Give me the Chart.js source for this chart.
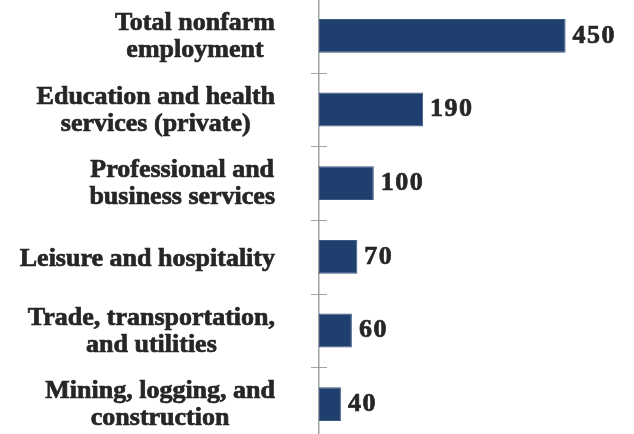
<!DOCTYPE html>
<html>
<head>
<meta charset="utf-8">
<script src="https://cdn.jsdelivr.net/npm/chart.js@4.4.0/dist/chart.umd.min.js"></script>
<style>
  html, body { margin: 0; padding: 0; background: #fff; overflow: hidden; }
  #wrap { position: absolute; left: 0; top: -1px; width: 634px; height: 442px; }
</style>
</head>
<body>
<div id="wrap"><canvas id="jobsChart"></canvas></div>
<script>
  // Data
  const categories = [
    ['Total nonfarm', 'employment'],
    ['Education and health', 'services (private)'],
    ['Professional and', 'business services'],
    ['Leisure and hospitality'],
    ['Trade, transportation,', 'and utilities'],
    ['Mining, logging, and', 'construction']
  ];
  const jobGains = [450, 190, 100, 70, 60, 40];
  const axisMax = 500;

  const labelFont = 'bold 26px "Liberation Serif", "DejaVu Serif", serif';
  const textColor = '#262626';
  const axisColor = '#a3a3a3';

  // fill + thin stroke so the serif looks as heavy as the original
  function heavyText(ctx, txt, x, y) {
    ctx.fillText(txt, x, y);
    ctx.strokeText(txt, x, y);
  }

  // category labels: block right aligned, lines centred inside the block
  const categoryLabels = {
    id: 'categoryLabels',
    afterDraw(chart) {
      const ctx = chart.ctx;
      const y = chart.scales.y;
      const right = chart.chartArea.left - 44;
      ctx.save();
      ctx.font = labelFont;
      ctx.fillStyle = textColor;
      ctx.strokeStyle = textColor;
      ctx.lineWidth = 0.7;
      ctx.textAlign = 'center';
      ctx.textBaseline = 'alphabetic';
      categories.forEach((lines, i) => {
        const cy = y.getPixelForValue(i);
        const widest = Math.max(...lines.map(l => ctx.measureText(l).width));
        const cx = right - widest / 2;
        const shift = lines.length > 1 ? 7.5 : 8.7;
        lines.forEach((line, j) => {
          heavyText(ctx, line, cx, cy + shift + (j - (lines.length - 1) / 2) * 27);
        });
      });
      ctx.restore();
    }
  };

  // value labels at the end of each bar
  const valueLabels = {
    id: 'valueLabels',
    afterDraw(chart) {
      const ctx = chart.ctx;
      const meta = chart.getDatasetMeta(0);
      ctx.save();
      ctx.font = labelFont;
      ctx.letterSpacing = '1.5px';
      ctx.fillStyle = textColor;
      ctx.strokeStyle = textColor;
      ctx.lineWidth = 0.7;
      ctx.textAlign = 'left';
      ctx.textBaseline = 'middle';
      meta.data.forEach((bar, i) => {
        heavyText(ctx, String(jobGains[i]), bar.x + 7, bar.y);
      });
      ctx.restore();
    }
  };

  // tick marks crossing the axis between categories
  const crossTicks = {
    id: 'crossTicks',
    afterDraw(chart) {
      const ctx = chart.ctx;
      const y = chart.scales.y;
      const x0 = chart.chartArea.left;
      ctx.save();
      ctx.strokeStyle = axisColor;
      ctx.lineWidth = 1;
      for (let i = 1; i < categories.length; i++) {
        const py = Math.round((y.getPixelForValue(i - 1) + y.getPixelForValue(i)) / 2) + 0.5;
        ctx.beginPath();
        ctx.moveTo(x0 - 8, py);
        ctx.lineTo(x0 + 8, py);
        ctx.stroke();
      }
      ctx.restore();
    }
  };

  const ctx = document.getElementById('jobsChart').getContext('2d');

  new Chart(ctx, {
    type: 'bar',
    data: {
      labels: categories,
      datasets: [{
        data: jobGains,
        backgroundColor: '#1f3f6e',
        borderColor: '#3f5a82',
        borderWidth: 1,
        borderSkipped: false,
        categoryPercentage: 1,
        barPercentage: 0.46
      }]
    },
    options: {
      indexAxis: 'y',
      responsive: true,
      maintainAspectRatio: false,
      animation: false,
      layout: { padding: { top: 0, right: 41, bottom: 0, left: 0 } },
      plugins: {
        legend: { display: false },
        tooltip: { enabled: false }
      },
      scales: {
        x: {
          display: false,
          min: 0,
          max: axisMax
        },
        y: {
          grid: { display: false },
          border: { display: true, color: axisColor, width: 1.5 },
          ticks: { display: false },
          afterFit(scale) { scale.width = 319; }
        }
      }
    },
    plugins: [categoryLabels, valueLabels, crossTicks]
  });
</script>
</body>
</html>
